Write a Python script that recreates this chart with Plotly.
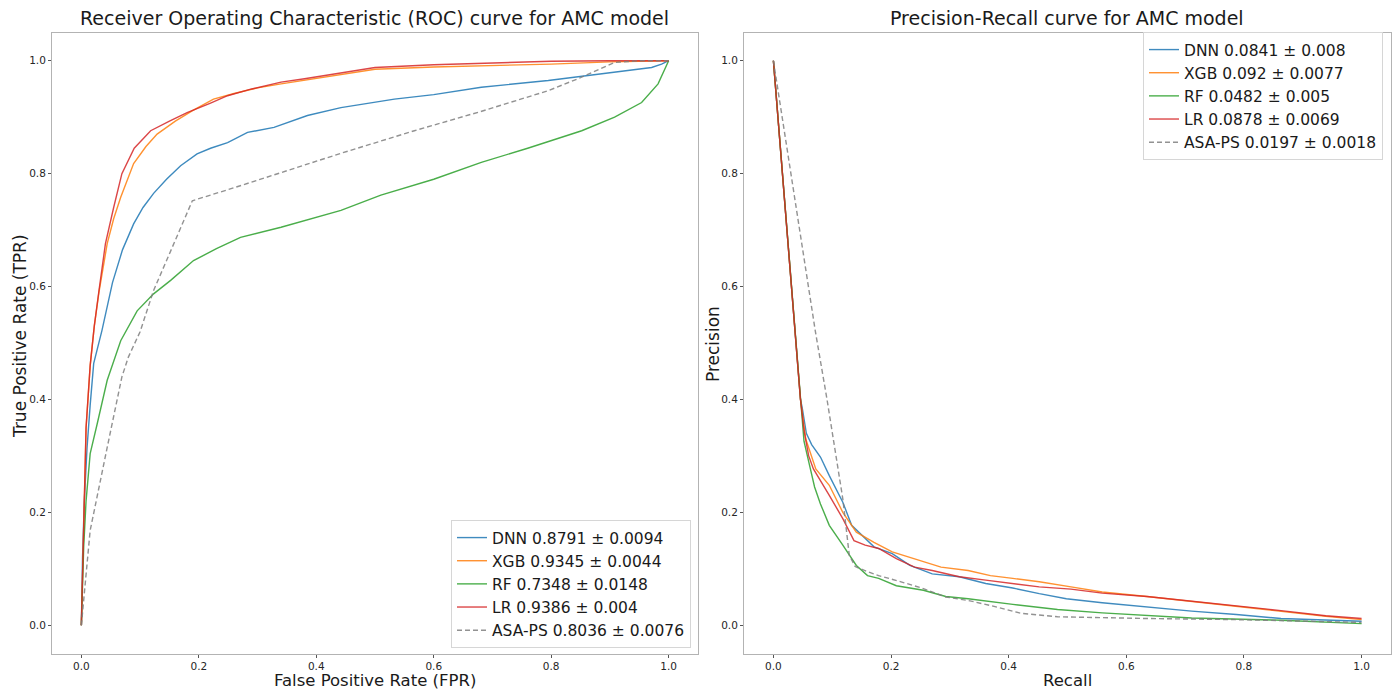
import plotly.graph_objects as go

# ---------------- ROC data (FPR, TPR) ----------------
roc_dnn_fpr = [0, 0.002, 0.005, 0.0097, 0.015, 0.021, 0.035, 0.053, 0.07, 0.089, 0.105, 0.123, 0.145, 0.169, 0.197, 0.22, 0.249, 0.283, 0.328, 0.385, 0.442, 0.533, 0.6, 0.681, 0.795, 0.908, 0.95, 0.971, 0.988, 1.0]
roc_dnn_tpr = [0, 0.12, 0.22, 0.315, 0.39, 0.464, 0.522, 0.607, 0.665, 0.711, 0.74, 0.765, 0.79, 0.814, 0.835, 0.845, 0.855, 0.873, 0.882, 0.903, 0.917, 0.932, 0.94, 0.953, 0.965, 0.98, 0.985, 0.988, 0.994, 1.0]

roc_xgb_fpr = [0, 0.002, 0.004, 0.008, 0.015, 0.022, 0.03, 0.044, 0.055, 0.067, 0.089, 0.11, 0.129, 0.16, 0.19, 0.225, 0.26, 0.3, 0.34, 0.4, 0.5, 0.6, 0.7, 0.8, 0.9, 0.95, 1.0]
roc_xgb_tpr = [0, 0.1, 0.2, 0.35, 0.46, 0.53, 0.59, 0.676, 0.72, 0.758, 0.818, 0.848, 0.87, 0.893, 0.912, 0.932, 0.942, 0.952, 0.959, 0.969, 0.985, 0.989, 0.991, 0.994, 0.998, 0.999, 1.0]

roc_rf_fpr = [0, 0.002, 0.004, 0.008, 0.015, 0.027, 0.044, 0.067, 0.095, 0.123, 0.152, 0.191, 0.23, 0.271, 0.34, 0.442, 0.51, 0.6, 0.681, 0.76, 0.852, 0.908, 0.954, 0.982, 1.0]
roc_rf_tpr = [0, 0.07, 0.139, 0.22, 0.304, 0.357, 0.434, 0.504, 0.557, 0.587, 0.611, 0.646, 0.667, 0.687, 0.705, 0.735, 0.762, 0.79, 0.82, 0.845, 0.876, 0.9, 0.926, 0.959, 1.0]

roc_lr_fpr = [0, 0.002, 0.004, 0.008, 0.015, 0.022, 0.03, 0.041, 0.055, 0.069, 0.09, 0.118, 0.15, 0.18, 0.22, 0.249, 0.29, 0.34, 0.38, 0.442, 0.5, 0.6, 0.7, 0.8, 0.9, 1.0]
roc_lr_tpr = [0, 0.1, 0.2, 0.35, 0.46, 0.53, 0.593, 0.676, 0.74, 0.80, 0.845, 0.876, 0.893, 0.908, 0.925, 0.938, 0.95, 0.962, 0.968, 0.978, 0.988, 0.993, 0.996, 0.999, 1.0, 1.0]

roc_asa_fpr = [0, 0.015, 0.044, 0.069, 0.08, 0.1, 0.123, 0.157, 0.189, 0.26, 0.34, 0.442, 0.567, 0.68, 0.795, 0.85, 0.908, 0.95, 1.0]
roc_asa_tpr = [0, 0.168, 0.315, 0.44, 0.475, 0.52, 0.593, 0.675, 0.752, 0.775, 0.802, 0.836, 0.876, 0.91, 0.947, 0.97, 0.997, 1.0, 1.0]

# ---------------- Precision-Recall data ----------------
pr_dnn_rec = [0, 0.0374, 0.046, 0.049, 0.056, 0.065, 0.080, 0.095, 0.118, 0.133, 0.148, 0.171, 0.202, 0.232, 0.27, 0.316, 0.361, 0.407, 0.452, 0.498, 0.559, 0.635, 0.711, 0.787, 0.863, 1.0]
pr_dnn_prec = [1.0, 0.52, 0.40, 0.385, 0.34, 0.32, 0.298, 0.265, 0.218, 0.177, 0.162, 0.139, 0.127, 0.106, 0.091, 0.086, 0.074, 0.066, 0.056, 0.047, 0.040, 0.032, 0.025, 0.019, 0.012, 0.007]

pr_xgb_rec = [0, 0.0374, 0.046, 0.055, 0.072, 0.095, 0.118, 0.141, 0.171, 0.202, 0.24, 0.285, 0.331, 0.369, 0.407, 0.452, 0.506, 0.559, 0.635, 0.711, 0.787, 0.863, 0.939, 1.0]
pr_xgb_prec = [1.0, 0.52, 0.40, 0.33, 0.277, 0.248, 0.2, 0.165, 0.147, 0.130, 0.118, 0.103, 0.097, 0.088, 0.083, 0.077, 0.068, 0.059, 0.051, 0.042, 0.033, 0.024, 0.016, 0.010]

pr_rf_rec = [0, 0.0374, 0.046, 0.052, 0.06, 0.07, 0.08, 0.095, 0.118, 0.141, 0.16, 0.179, 0.209, 0.255, 0.293, 0.331, 0.407, 0.483, 0.559, 0.635, 0.711, 0.863, 1.0]
pr_rf_prec = [1.0, 0.52, 0.40, 0.326, 0.29, 0.245, 0.215, 0.177, 0.142, 0.106, 0.088, 0.083, 0.070, 0.062, 0.051, 0.047, 0.037, 0.028, 0.022, 0.017, 0.013, 0.009, 0.003]

pr_lr_rec = [0, 0.0374, 0.046, 0.052, 0.06, 0.068, 0.08, 0.095, 0.118, 0.137, 0.156, 0.179, 0.209, 0.24, 0.27, 0.316, 0.361, 0.407, 0.452, 0.506, 0.559, 0.635, 0.711, 0.787, 0.863, 0.939, 1.0]
pr_lr_prec = [1.0, 0.52, 0.40, 0.345, 0.30, 0.277, 0.255, 0.230, 0.189, 0.150, 0.142, 0.136, 0.118, 0.103, 0.097, 0.086, 0.080, 0.074, 0.068, 0.064, 0.057, 0.051, 0.043, 0.035, 0.026, 0.017, 0.012]

pr_asa_rec = [0, 0.0714, 0.091, 0.118, 0.129, 0.139, 0.16, 0.179, 0.217, 0.255, 0.293, 0.331, 0.369, 0.422, 0.483, 0.559, 0.635, 0.787, 1.0]
pr_asa_prec = [1.0, 0.52, 0.401, 0.224, 0.124, 0.104, 0.095, 0.088, 0.077, 0.065, 0.050, 0.044, 0.035, 0.021, 0.015, 0.013, 0.012, 0.010, 0.005]

roc_labels = ["DNN 0.8791 ± 0.0094", "XGB 0.9345 ± 0.0044", "RF 0.7348 ± 0.0148",
              "LR 0.9386 ± 0.004", "ASA-PS 0.8036 ± 0.0076"]
pr_labels = ["DNN 0.0841 ± 0.008", "XGB 0.092 ± 0.0077", "RF 0.0482 ± 0.005",
             "LR 0.0878 ± 0.0069", "ASA-PS 0.0197 ± 0.0018"]

tick_vals = [0.0, 0.2, 0.4, 0.6, 0.8, 1.0]
tick_text = ["0.0", "0.2", "0.4", "0.6", "0.8", "1.0"]

colors = ["#1f77b4", "#ff7f0e", "#2ca02c", "#d62728", "#7f7f7f"]
FONT = "DejaVu Sans"
OFF = 8  # page body margin offset
W, H = 1400 - OFF, 691 - OFF

roc_series = [(roc_dnn_fpr, roc_dnn_tpr), (roc_xgb_fpr, roc_xgb_tpr), (roc_rf_fpr, roc_rf_tpr),
              (roc_lr_fpr, roc_lr_tpr), (roc_asa_fpr, roc_asa_tpr)]
pr_series = [(pr_dnn_rec, pr_dnn_prec), (pr_xgb_rec, pr_xgb_prec), (pr_rf_rec, pr_rf_prec),
             (pr_lr_rec, pr_lr_prec), (pr_asa_rec, pr_asa_prec)]

fig = go.Figure()
for i, ((x, y), name) in enumerate(zip(roc_series, roc_labels)):
    fig.add_trace(go.Scatter(
        x=x, y=y, mode="lines", name=name, xaxis="x", yaxis="y", legend="legend",
        opacity=0.85,
        line=dict(color=colors[i], width=1.4, dash="5px,3px" if i == 4 else "solid")))
for i, ((x, y), name) in enumerate(zip(pr_series, pr_labels)):
    fig.add_trace(go.Scatter(
        x=x, y=y, mode="lines", name=name, xaxis="x2", yaxis="y2", legend="legend2",
        opacity=0.85,
        line=dict(color=colors[i], width=1.4, dash="5px,3px" if i == 4 else "solid")))

def px_x(p):
    return (p - OFF) / W

def px_y(p):
    return 1 - (p - OFF) / H

axis_common = dict(range=[-0.05, 1.05], tickvals=tick_vals, ticktext=tick_text,
                   showgrid=False, zeroline=False, showline=True, mirror=True,
                   linecolor="#b3b3b3", linewidth=1, ticks="outside", ticklen=3,
                   tickcolor="#555555", tickfont=dict(family=FONT, size=10.5, color="#262626"),
                   automargin=False, fixedrange=True)

ydom = [px_y(653.5), px_y(32.5)]
fig.update_layout(
    width=W, height=H,
    margin=dict(l=0, r=0, t=0, b=0),
    paper_bgcolor="white", plot_bgcolor="white",
    font=dict(family=FONT, color="#262626"),
    xaxis=dict(domain=[px_x(52), px_x(698)], anchor="y", **axis_common),
    yaxis=dict(domain=ydom, anchor="x", **axis_common),
    xaxis2=dict(domain=[px_x(744), px_x(1391)], anchor="y2", **axis_common),
    yaxis2=dict(domain=ydom, anchor="x2", **axis_common),
    legend=dict(x=px_x(451), y=px_y(520), xanchor="left", yanchor="top",
                bgcolor="rgba(255,255,255,0.9)", bordercolor="#d6d6d6", borderwidth=1,
                font=dict(family=FONT, size=15.5, color="#1a1a1a")),
    legend2=dict(x=px_x(1143), y=px_y(32), xanchor="left", yanchor="top",
                 bgcolor="rgba(255,255,255,0.9)", bordercolor="#d6d6d6", borderwidth=1,
                 font=dict(family=FONT, size=15.5, color="#1a1a1a")),
    showlegend=True,
)

annots = [
    ("Receiver Operating Characteristic (ROC) curve for AMC model", 375, 18, 19, 0),
    ("Precision-Recall curve for AMC model", 1067, 18, 19, 0),
    ("False Positive Rate (FPR)", 375, 680.5, 16.5, 0),
    ("Recall", 1067, 680.5, 16.5, 0),
    ("True Positive Rate (TPR)", 20, 336, 17, -90),
    ("Precision", 713, 344, 17, -90),
]
for text, x, y, size, ang in annots:
    fig.add_annotation(text=text, x=px_x(x), y=px_y(y), xref="paper", yref="paper",
                       xanchor="center", yanchor="middle", showarrow=False, textangle=ang,
                       font=dict(family=FONT, size=size, color="#1a1a1a"))

fig.write_html("out.html")
